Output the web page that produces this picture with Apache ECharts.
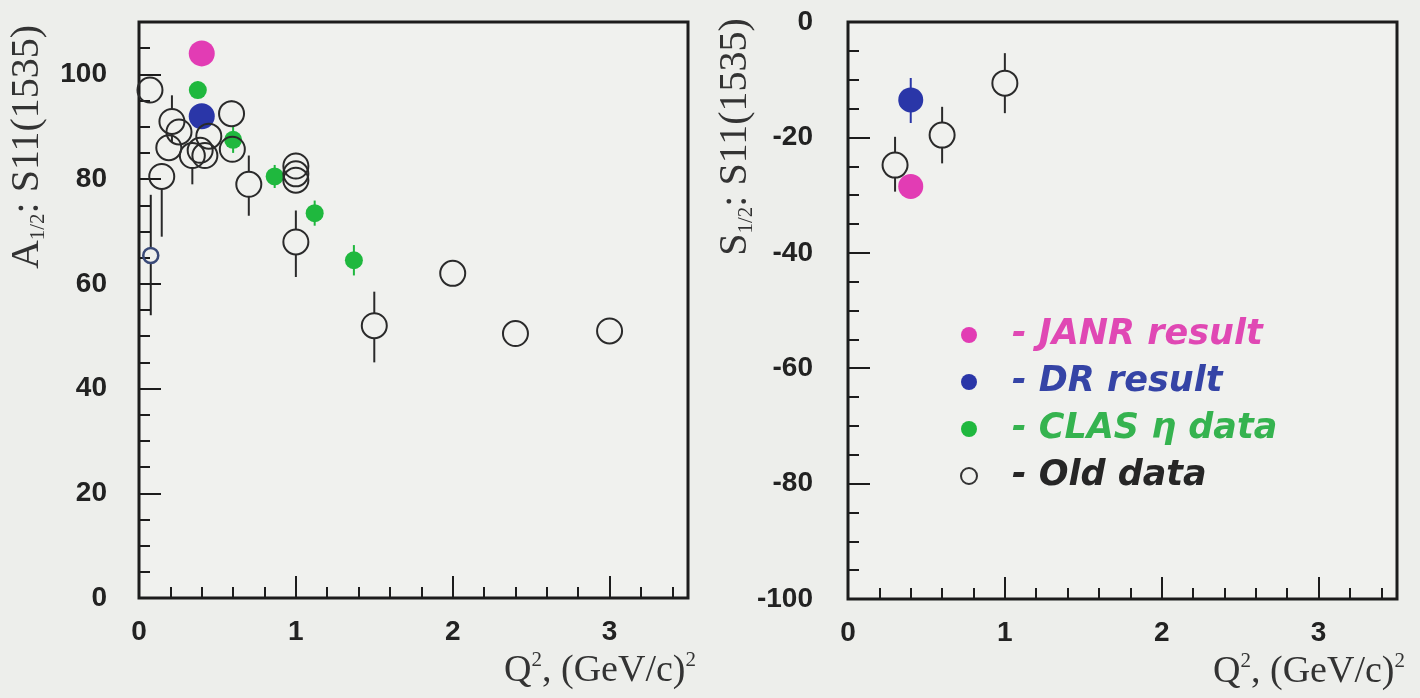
<!DOCTYPE html>
<html><head><meta charset="utf-8">
<script src="https://cdn.jsdelivr.net/npm/echarts@6/dist/echarts.min.js"></script>
<style>html,body{margin:0;padding:0;background:#edeeeb}#c{width:1420px;height:698px}</style>
</head><body><div id="c"></div>
<script>
// ---------- Data ----------
// Left panel: A1/2 amplitude of S11(1535) vs Q^2.  Each point: [Q2, value, low, high]
const janrA = [[0.40, 104]];
const drA = [[0.40, 92]];
const clasA = [
  [0.375, 97.0, 95.4, 98.6],
  [0.60, 87.5, 85.0, 90.0],
  [0.865, 80.5, 78.3, 82.7],
  [1.12, 73.5, 71.1, 75.9],
  [1.37, 64.5, 61.6, 67.4]
];
const oldA = [
  [0.07, 97.0, 95.0, 99.0],
  [0.145, 80.5, 69.0, 83.0],
  [0.21, 91.0, 87.0, 96.0],
  [0.19, 86.0, 84.0, 88.0],
  [0.255, 89.0, 87.0, 91.0],
  [0.34, 84.5, 79.0, 87.0],
  [0.39, 85.5, 84.0, 87.0],
  [0.42, 84.5, 83.0, 86.0],
  [0.445, 88.2, 86.0, 90.0],
  [0.59, 92.5, 90.0, 95.0],
  [0.595, 85.7, 84.0, 87.5],
  [0.70, 79.0, 73.0, 84.5],
  [1.0, 82.5, 80.0, 85.0],
  [1.0, 81.0, 79.0, 83.0],
  [1.0, 79.8, 78.0, 82.0],
  [1.0, 68.0, 61.3, 74.0],
  [1.5, 52.0, 45.0, 58.5],
  [2.0, 62.0, 60.5, 63.5],
  [2.4, 50.5, 49.0, 52.0],
  [3.0, 51.0, 49.5, 52.5]
];
const smallA = [[0.075, 65.4, 54.0, 77.0]];

// Right panel: S1/2 amplitude of S11(1535) vs Q^2
const janrS = [[0.40, -28.5]];
const drS = [[0.40, -13.5, -17.5, -9.7]];
const oldS = [
  [0.30, -24.8, -29.4, -19.9],
  [0.60, -19.6, -24.5, -14.7],
  [1.00, -10.6, -15.8, -5.4]
];

const legendNames = ['JANR result', 'DR result', 'CLAS \u03b7 data', 'Old data'];
const xRange = [0, 3.5];
const yRangeA = [0, 110];
const yRangeS = [-100, 0];

// ---------- Styles ----------
const C_MAG = '#e23cb4', C_BLUE = '#2a36a8', C_GREEN = '#1fb83e', C_OLD = '#2a2a2a', C_SMALL = '#3a4a78';
const INK = '#1c1c1c';
const tickFont = {fontFamily: 'Liberation Sans', fontWeight: 'bold', fontSize: 28, color: '#222'};
const serif = 'Liberation Serif';

const grids = [
  {left: 139, top: 22, width: 549, height: 576},
  {left: 848, top: 22, width: 549, height: 577}
];

function xName() {
  return {
    name: '{m|Q}{p|2}{m|, (GeV/c)}{p|2}',
    nameLocation: 'end', nameGap: 8, nameMoveOverlap: false,
    nameTextStyle: {
      align: 'right', verticalAlign: 'top', padding: [52, 0, 0, 0],
      rich: {
        m: {fontFamily: serif, fontSize: 38, color: '#333', lineHeight: 42},
        p: {fontFamily: serif, fontSize: 21, color: '#333', verticalAlign: 'top', lineHeight: 42, padding: [0, 0, 18, 0]}
      }
    }
  };
}
function yName(letter, gap, shift) {
  return {
    name: '{m|' + letter + '}{s|1/2}{m|: S11(1535)}',
    nameLocation: 'middle', nameGap: gap, nameRotate: 90, nameMoveOverlap: false,
    nameTextStyle: {
      padding: [0, 0, 0, shift],
      rich: {
        m: {fontFamily: serif, fontSize: 40, color: '#333', lineHeight: 44},
        s: {fontFamily: serif, fontSize: 21, color: '#333', verticalAlign: 'bottom', lineHeight: 21, padding: [14, 0, 0, 0]}
      }
    }
  };
}

function mainX(gi) {
  return Object.assign({
    gridIndex: gi, type: 'value', min: xRange[0], max: xRange[1], interval: 1, position: 'bottom',
    axisLine: {show: false, onZero: false},
    axisTick: {show: true, inside: true, length: 22, lineStyle: {color: INK, width: 2}},
    axisLabel: Object.assign({margin: 20, showMaxLabel: false}, tickFont),
    splitLine: {show: false}
  }, xName());
}
function minorX(gi) {
  return {
    gridIndex: gi, type: 'value', min: xRange[0], max: xRange[1], interval: 0.2, position: 'bottom',
    axisLine: {show: false, onZero: false},
    axisTick: {show: true, inside: true, length: 11, lineStyle: {color: INK, width: 2}},
    axisLabel: {show: false}, splitLine: {show: false}
  };
}
function mainY(gi, range, nm) {
  return Object.assign({
    gridIndex: gi, type: 'value', min: range[0], max: range[1], interval: 20, position: 'left',
    axisLine: {show: false, onZero: false},
    axisTick: {show: true, inside: true, length: 22, lineStyle: {color: INK, width: 2}},
    axisLabel: Object.assign({margin: gi === 0 ? 32 : 35, showMaxLabel: gi === 1}, tickFont),
    splitLine: {show: false}
  }, nm);
}
function minorY(gi, range) {
  return {
    gridIndex: gi, type: 'value', min: range[0], max: range[1], interval: 5, position: 'left',
    axisLine: {show: false, onZero: false},
    axisTick: {show: true, inside: true, length: 11, lineStyle: {color: INK, width: 2}},
    axisLabel: {show: false}, splitLine: {show: false}
  };
}

// error-bar renderer: data rows [x, y, lo, hi]; gap = marker radius left open
function errSeries(name, rows, xi, yi, color, gap) {
  return {
    name: name, type: 'custom', xAxisIndex: xi, yAxisIndex: yi, z: 1, silent: true,
    data: rows.map(r => [r[0], r[1], r[2], r[3]]),
    encode: {x: 0, y: [1, 2, 3]},
    renderItem: function (params, api) {
      const x = api.value(0), y = api.value(1), lo = api.value(2), hi = api.value(3);
      const pC = api.coord([x, y]), pLo = api.coord([x, lo]), pHi = api.coord([x, hi]);
      const st = {stroke: color, lineWidth: 2};
      const ch = [];
      if (pC[1] - gap > pHi[1]) ch.push({type: 'line', shape: {x1: pC[0], y1: pHi[1], x2: pC[0], y2: pC[1] - gap}, style: st});
      if (pC[1] + gap < pLo[1]) ch.push({type: 'line', shape: {x1: pC[0], y1: pC[1] + gap, x2: pC[0], y2: pLo[1]}, style: st});
      return {type: 'group', children: ch};
    }
  };
}
function filled(name, rows, xi, yi, color, size) {
  return {
    name: name, type: 'scatter', xAxisIndex: xi, yAxisIndex: yi, z: 3, symbol: 'circle', symbolSize: size,
    itemStyle: {color: color, opacity: 1}, emphasis: {disabled: true},
    data: rows.map(r => [r[0], r[1]])
  };
}
function hollow(name, rows, xi, yi, color, size, bw) {
  return {
    name: name, type: 'scatter', xAxisIndex: xi, yAxisIndex: yi, z: 4, symbol: 'circle', symbolSize: size,
    itemStyle: {color: 'rgba(0,0,0,0)', borderColor: color, borderWidth: bw, opacity: 1}, emphasis: {disabled: true},
    data: rows.map(r => [r[0], r[1]])
  };
}

const option = {
  backgroundColor: '#edeeeb',
  animation: false,
  grid: grids.map(g => Object.assign({show: true, borderColor: INK, borderWidth: 3, backgroundColor: '#f0f1ee',
    containLabel: false, outerBoundsMode: 'none'}, g)),
  xAxis: [mainX(0), minorX(0), mainX(1), minorX(1)],
  yAxis: [
    mainY(0, yRangeA, yName('A', 90, 326)), minorY(0, yRangeA),
    mainY(1, yRangeS, yName('S', 91, 347)), minorY(1, yRangeS)
  ],
  legend: {
    orient: 'vertical', left: 955, top: 312, itemWidth: 16, itemHeight: 16, itemGap: 11,
    formatter: n => '- ' + n,
    textStyle: {fontFamily: 'DejaVu Sans', fontStyle: 'italic', fontWeight: 'bold', fontSize: 35, lineHeight: 36, padding: [0, 0, 0, 30]},
    data: [
      {name: legendNames[0], icon: 'circle', textStyle: {color: '#e048b4'}},
      {name: legendNames[1], icon: 'circle', textStyle: {color: '#3544a6'}},
      {name: legendNames[2], icon: 'circle', textStyle: {color: '#35b34f'}},
      {name: legendNames[3], icon: 'circle', itemStyle: {color: 'rgba(0,0,0,0)', borderColor: '#333', borderWidth: 2}, textStyle: {color: '#262626'}}
    ]
  },
  series: [
    // left panel
    errSeries('errOldA', oldA, 0, 0, C_OLD, 12.5),
    errSeries('errSmallA', smallA, 0, 0, '#222', 7.5),
    errSeries('errClasA', clasA, 0, 0, C_GREEN, 0),
    hollow(legendNames[3], oldA, 0, 0, C_OLD, 25, 2),
    hollow('smallA', smallA, 0, 0, C_SMALL, 15, 2.5),
    filled(legendNames[2], clasA, 0, 0, C_GREEN, 18),
    filled(legendNames[1], drA, 0, 0, C_BLUE, 26),
    filled(legendNames[0], janrA, 0, 0, C_MAG, 26),
    // right panel
    errSeries('errOldS', oldS, 2, 2, C_OLD, 12.5),
    errSeries('errDrS', drS, 2, 2, C_BLUE, 0),
    hollow(legendNames[3], oldS, 2, 2, C_OLD, 25, 2),
    filled(legendNames[1], drS, 2, 2, C_BLUE, 25),
    filled(legendNames[0], janrS, 2, 2, C_MAG, 25)
  ]
};
const chart = echarts.init(document.getElementById('c'), null, {renderer: 'canvas'});
chart.setOption(option);
</script>
</body></html>
